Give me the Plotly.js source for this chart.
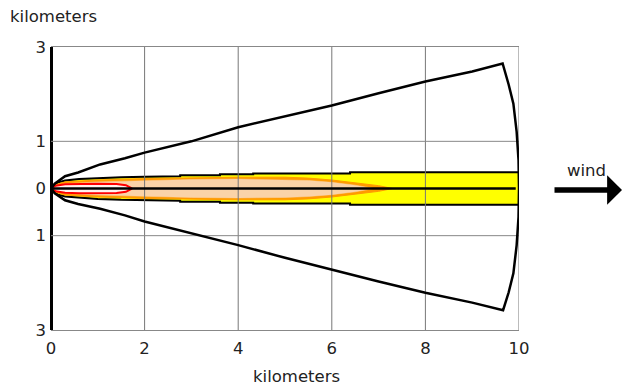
<!DOCTYPE html>
<html>
<head>
<meta charset="utf-8">
<script src="https://cdn.plot.ly/plotly-3.0.1.min.js"></script>
<style>html,body{margin:0;padding:0;background:#fff;}#chart{width:623px;height:386px;}</style>
</head>
<body>
<div id="chart"></div>
<script>
// ---- data (kilometers) ----
const xTicks = [0, 2, 4, 6, 8, 10];
const yTicks = [-3, -1, 0, 1, 3];
const yTickText = ['3', '1', '0', '1', '3'];
const gridX = [2, 4, 6, 8, 10];
const gridY = [-1, 1];

// outer confidence envelope
const upperX = [0, 0.08, 0.3, 0.58, 1.05, 1.58, 2, 3, 4, 5, 6, 7, 8, 9, 9.65];
const upperY = [0, 0.1, 0.26, 0.34, 0.51, 0.64, 0.76, 1.0, 1.3, 1.53, 1.76, 2.02, 2.27, 2.48, 2.65];
const arcX = [9.78, 9.88, 9.95, 9.99, 10, 9.99, 9.95, 9.88, 9.78];
const arcY = [2.2, 1.8, 1.2, 0.6, 0, -0.6, -1.2, -1.8, -2.2];
const lowerX = [0, 0.08, 0.3, 0.58, 1.05, 1.58, 2, 3, 4, 5, 6, 7, 8, 9, 9.66];
const lowerY = [0, -0.1, -0.25, -0.33, -0.43, -0.57, -0.7, -0.95, -1.2, -1.47, -1.72, -1.97, -2.21, -2.42, -2.58];

// yellow zone (half widths)
const yellowX = [0, 0.05, 0.15, 0.3, 0.6, 1.0, 1.5, 2.0, 2.76, 2.76, 3.61, 3.61, 4.32, 4.32, 6.39, 6.39, 10];
const yellowHalf = [0, 0.07, 0.13, 0.17, 0.2, 0.22, 0.24, 0.25, 0.26, 0.28, 0.28, 0.3, 0.3, 0.32, 0.32, 0.345, 0.345];
// orange zone
const orangeX = [0, 0.1, 0.3, 1, 2, 3, 4, 5, 5.5, 6, 6.5, 7, 7.3];
const orangeHalf = [0, 0.08, 0.14, 0.18, 0.21, 0.23, 0.24, 0.24, 0.22, 0.18, 0.12, 0.06, 0];
// inner fill of orange zone
const peachX = [0.05, 0.3, 1, 2, 3, 4, 5, 5.5, 6, 6.5, 6.9];
const peachHalf = [0.03, 0.1, 0.14, 0.17, 0.19, 0.2, 0.19, 0.17, 0.13, 0.07, 0];
// red zone
const redX = [0, 0.1, 0.3, 0.6, 1.0, 1.4, 1.6, 1.73];
const redHalf = [0, 0.06, 0.09, 0.1, 0.1, 0.095, 0.07, 0];
// plume centerline
const centerX = [0, 9.93];
const centerY = [0, 0];

// ---- helpers ----
function band(xs, hs) {
  const x = xs.concat(xs.slice().reverse());
  const y = hs.concat(hs.slice().reverse().map(v => -v));
  return {x, y};
}
const env = {
  x: upperX.concat(arcX, lowerX.slice().reverse()),
  y: upperY.concat(arcY, lowerY.slice().reverse())
};
const yb = band(yellowX, yellowHalf);
const ob = band(orangeX, orangeHalf);
const pb = band(peachX, peachHalf);
const rb = band(redX, redHalf);

const gvx = [], gvy = [];
gridX.forEach(v => { gvx.push(v, v, null); gvy.push(yTicks[0], yTicks[yTicks.length - 1], null); });
const ghx = [], ghy = [];
gridY.forEach(v => { ghx.push(xTicks[0], xTicks[xTicks.length - 1], null); ghy.push(v, v, null); });

const traces = [
  {x: yb.x, y: yb.y, type: 'scatter', mode: 'lines', fill: 'toself', fillcolor: '#FFFF00',
   line: {color: '#000', width: 2}, hoverinfo: 'skip'},
  {x: ob.x, y: ob.y, type: 'scatter', mode: 'lines', fill: 'toself', fillcolor: '#FF9A00',
   line: {color: '#FF9A00', width: 1}, hoverinfo: 'skip'},
  {x: pb.x, y: pb.y, type: 'scatter', mode: 'lines', fill: 'toself', fillcolor: '#FAD3A8',
   line: {color: '#FAD3A8', width: 0.5}, hoverinfo: 'skip'},
  {x: rb.x, y: rb.y, type: 'scatter', mode: 'lines', fill: 'toself', fillcolor: '#FFF1EE',
   line: {color: '#FF0000', width: 2}, hoverinfo: 'skip'},
  {x: gvx, y: gvy, type: 'scatter', mode: 'lines', line: {color: '#777', width: 1}, hoverinfo: 'skip'},
  {x: ghx, y: ghy, type: 'scatter', mode: 'lines', line: {color: '#888', width: 1}, hoverinfo: 'skip'},
  {x: env.x, y: env.y, type: 'scatter', mode: 'lines', line: {color: '#000', width: 2.5}, hoverinfo: 'skip'},
  {x: centerX, y: centerY, type: 'scatter', mode: 'lines', line: {color: '#000', width: 2.5}, hoverinfo: 'skip'}
];

const font = {family: 'DejaVu Sans, Verdana, sans-serif', size: 16.5, color: '#222'};

const layout = {
  width: 623, height: 386,
  margin: {l: 51, r: 104, t: 47, b: 56, pad: 0},
  paper_bgcolor: '#fff', plot_bgcolor: '#fff',
  showlegend: false,
  font: font,
  xaxis: {
    range: [0, 10], tickvals: xTicks, ticks: '', showgrid: false,
    zeroline: true, zerolinecolor: '#000', zerolinewidth: 3,
    showline: true, linecolor: '#888', linewidth: 1, mirror: true,
    tickfont: font, ticklabelstandoff: 3, fixedrange: true
  },
  yaxis: {
    range: [-3, 3], tickvals: yTicks, ticktext: yTickText, ticks: '', showgrid: false,
    zeroline: false, showline: false, tickfont: font, ticklabelstandoff: 4, fixedrange: true
  },
  annotations: [
    {text: 'kilometers', xref: 'paper', yref: 'paper', x: (8 - 51) / 468, y: (330 - 17) / 283,
     xanchor: 'left', yanchor: 'middle', showarrow: false, font: font},
    {text: 'kilometers', xref: 'paper', yref: 'paper', x: (296 - 51) / 468, y: (330 - 376) / 283,
     xanchor: 'center', yanchor: 'middle', showarrow: false, font: font},
    {text: 'wind', xref: 'paper', yref: 'paper', x: (586 - 51) / 468, y: (330 - 170) / 283,
     xanchor: 'center', yanchor: 'middle', showarrow: false, font: font},
    {text: '', xref: 'paper', yref: 'paper', x: (636 - 51) / 468, y: (330 - 190) / 283,
     ax: -83, ay: 0, showarrow: true, arrowhead: 1, arrowsize: 0.9, arrowwidth: 5.5, arrowcolor: '#000'}
  ]
};

Plotly.newPlot('chart', traces, layout, {displayModeBar: false, staticPlot: true});
</script>
</body>
</html>
